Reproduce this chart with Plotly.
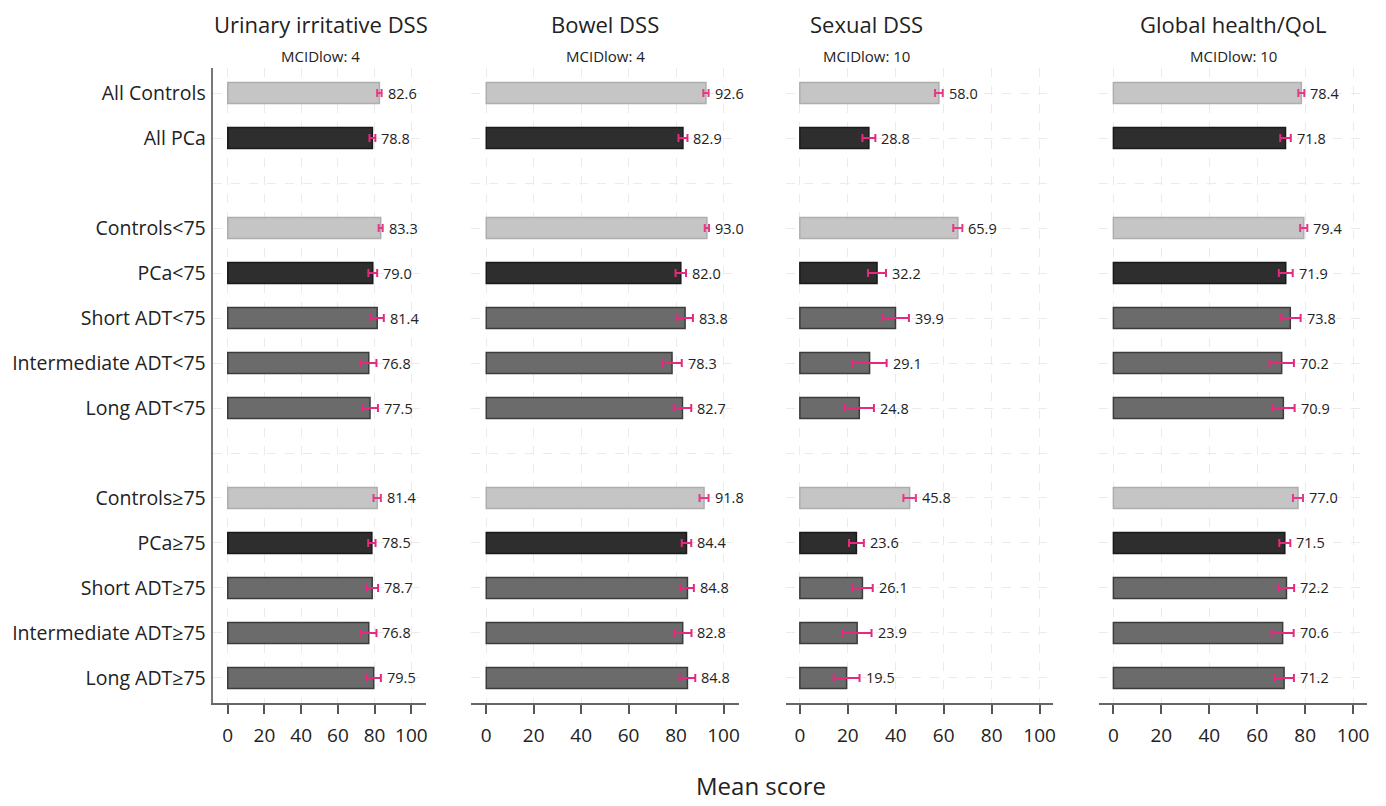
import plotly.graph_objects as go

# Row labels (blank strings are spacer rows between the groups)
groups = ["All Controls", "All PCa", "",
          "Controls<75", "PCa<75", "Short ADT<75", "Intermediate ADT<75", "Long ADT<75", "",
          "Controls≥75", "PCa≥75", "Short ADT≥75", "Intermediate ADT≥75", "Long ADT≥75"]
group_kind = ["ctrl", "pca", None,
              "ctrl", "pca", "adt", "adt", "adt", None,
              "ctrl", "pca", "adt", "adt", "adt"]

domains = ["Urinary irritative DSS", "Bowel DSS", "Sexual DSS", "Global health/QoL"]
mcid_low = [4, 4, 10, 10]

# Mean scores per domain (None for spacer rows)
urinary_mean = [82.6, 78.8, None, 83.3, 79.0, 81.4, 76.8, 77.5, None, 81.4, 78.5, 78.7, 76.8, 79.5]
bowel_mean = [92.6, 82.9, None, 93.0, 82.0, 83.8, 78.3, 82.7, None, 91.8, 84.4, 84.8, 82.8, 84.8]
sexual_mean = [58.0, 28.8, None, 65.9, 32.2, 39.9, 29.1, 24.8, None, 45.8, 23.6, 26.1, 23.9, 19.5]
qol_mean = [78.4, 71.8, None, 79.4, 71.9, 73.8, 70.2, 70.9, None, 77.0, 71.5, 72.2, 70.6, 71.2]

# Half-width of the 95% confidence interval
urinary_ci = [1.2, 1.6, None, 1.1, 2.4, 3.6, 4.2, 4.3, None, 2.0, 2.0, 3.2, 4.2, 3.9]
bowel_ci = [1.1, 1.9, None, 0.9, 2.2, 3.3, 4.1, 3.7, None, 1.9, 2.0, 2.7, 3.7, 3.3]
sexual_ci = [1.6, 2.7, None, 1.9, 3.75, 5.6, 7.1, 6.1, None, 2.6, 3.1, 4.3, 6.0, 5.4]
qol_ci = [1.25, 2.2, None, 1.5, 2.9, 4.3, 5.1, 4.7, None, 2.1, 2.3, 3.2, 4.6, 4.1]

x_ticks = [0, 20, 40, 60, 80, 100]

means = [urinary_mean, bowel_mean, sexual_mean, qol_mean]
cis = [urinary_ci, bowel_ci, sexual_ci, qol_ci]

W, H = 1386, 806
# panel pixel extents and value ranges
panel_px = [(213, 427), (472, 740), (787, 1055), (1101, 1369)]
panel_rng = [(-8.2, 108.2), (-6.3, 106.5), (-5.83, 105.8), (-5.83, 105.8)]
title_cx = [321, 606, 868, 1235]
plot_top, plot_bottom = 68, 703

fills = {"ctrl": "#c0c0c0", "pca": "#2e2e2e", "adt": "#6b6b6b"}
edges = {"ctrl": "#a8a8a8", "pca": "#1a1a1a", "adt": "#3c3c3c"}
err_color = "#e6287e"
txt = "#222222"
font_family = "Open Sans"

fig = go.Figure()
ann = []
rows = list(range(len(groups)))

for p in range(4):
    xa = "x" if p == 0 else f"x{p+1}"
    ya = "y" if p == 0 else f"y{p+1}"
    idx = [i for i in rows if group_kind[i] is not None]
    for kind in ["ctrl", "pca", "adt"]:
        sel = [i for i in idx if group_kind[i] == kind]
        fig.add_trace(go.Bar(
            x=[means[p][i] for i in sel],
            y=sel,
            orientation="h",
            width=0.47,
            marker=dict(color=fills[kind], line=dict(color=edges[kind], width=1.5)),
            opacity=0.92 if kind == "ctrl" else 1.0,
            error_x=dict(type="data", array=[cis[p][i] for i in sel],
                         color=err_color, thickness=2, width=4),
            xaxis=xa, yaxis=ya, showlegend=False, hoverinfo="x+y",
        ))
    for i in idx:
        ann.append(dict(
            x=means[p][i] + cis[p][i], y=i, xref=xa, yref=ya,
            text=f"{means[p][i]:.1f}", showarrow=False,
            xanchor="left", yanchor="middle", xshift=4,
            font=dict(size=14.5, color=txt, family=font_family),
        ))
    # panel title and MCID subtitle
    ann.append(dict(x=title_cx[p] / W, y=1 - 24 / H, xref="paper", yref="paper",
                    text=domains[p], showarrow=False, xanchor="center", yanchor="middle",
                    font=dict(size=22, color=txt, family=font_family)))
    ann.append(dict(x=title_cx[p] / W, y=1 - 56 / H, xref="paper", yref="paper",
                    text=f"MCIDlow: {mcid_low[p]}", showarrow=False,
                    xanchor="center", yanchor="middle",
                    font=dict(size=15, color=txt, family=font_family)))

ann.append(dict(x=762 / W, y=0.002, xref="paper", yref="paper",
                text="Mean score", showarrow=False, xanchor="center", yanchor="bottom",
                font=dict(size=24, color=txt, family=font_family)))

layout = dict(
    width=W, height=H,
    margin=dict(l=0, r=0, t=0, b=0),
    paper_bgcolor="white", plot_bgcolor="white",
    barmode="overlay",
    annotations=ann,
    font=dict(family=font_family, color=txt),
)

grid = "#ebebeb"
for p in range(4):
    xk = "xaxis" if p == 0 else f"xaxis{p+1}"
    yk = "yaxis" if p == 0 else f"yaxis{p+1}"
    ya = "y" if p == 0 else f"y{p+1}"
    xa = "x" if p == 0 else f"x{p+1}"
    x0, x1 = panel_px[p]
    layout[xk] = dict(
        domain=[x0 / W, x1 / W], anchor=ya, range=list(panel_rng[p]),
        tickvals=x_ticks, ticktext=[str(t) for t in x_ticks],
        ticks="outside", ticklen=9, tickwidth=1.5, tickcolor="#555555",
        showline=True, linecolor="#666666", linewidth=1.5,
        showgrid=True, gridcolor=grid, griddash="dash", gridwidth=1,
        zeroline=False, ticklabelstandoff=5,
        tickfont=dict(size=19, color=txt, family=font_family),
    )
    layout[yk] = dict(
        domain=[1 - plot_bottom / H, 1 - plot_top / H], anchor=xa,
        range=[13.556, -0.556],
        tickvals=rows, ticktext=groups if p == 0 else [""] * len(rows),
        showticklabels=(p == 0), ticks="",
        showline=(p == 0), linecolor="#777777", linewidth=2,
        showgrid=True, gridcolor=grid, griddash="dash", gridwidth=1,
        zeroline=False, ticklabelstandoff=1,
        tickfont=dict(size=19.5, color=txt, family=font_family),
    )

fig.update_layout(**layout)
fig.write_html("out.html")
